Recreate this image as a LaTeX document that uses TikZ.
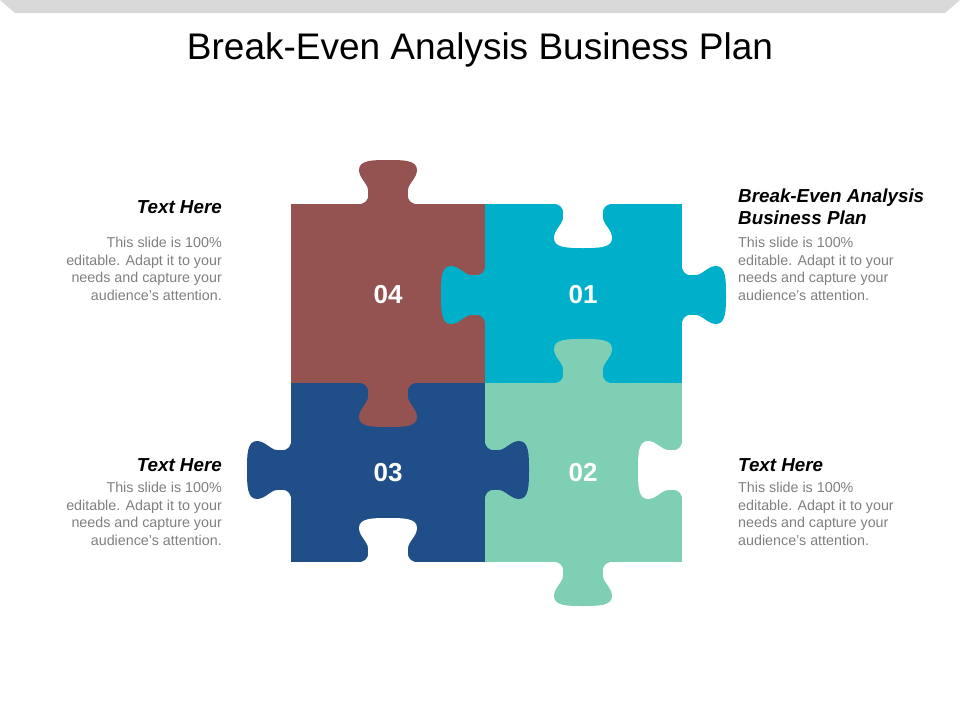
\documentclass[tikz,border=0pt]{standalone}
\usepackage{fontspec}
\setmainfont{Liberation Sans}
\definecolor{cbrown}{HTML}{945250}
\definecolor{ccyan}{HTML}{00B0CA}
\definecolor{cnavy}{HTML}{1F4E89}
\definecolor{cgreen}{HTML}{7FCFB5}
\definecolor{ctext}{HTML}{7F7F7F}
\definecolor{cbar}{HTML}{D9D9D9}
\tikzset{
  knob/.pic={\fill[pic actions] (-27,0) .. controls (-18,-3) and (-20,-8) .. (-20,-14) .. controls (-20,-20) and (-29,-26) .. (-29,-34) .. controls (-29,-44) and (-15,-44) .. (0,-44) .. controls (15,-44) and (29,-44) .. (29,-34) .. controls (29,-26) and (20,-20) .. (20,-14) .. controls (20,-8) and (18,-3) .. (27,0) -- cycle;},
  num/.style={text=white,font=\fontsize{26}{30}\selectfont\bfseries},
  head/.style={font=\fontsize{18.8}{22}\selectfont\bfseries\itshape,inner sep=0pt},
  body/.style={text=ctext,font=\fontsize{14.3}{17.5}\selectfont,inner sep=0pt}
}
\begin{document}
\begin{tikzpicture}[x=1pt,y=-1pt]
\useasboundingbox (0,0) rectangle (960,720);
\fill[cbar] (0,0) -- (960,0) -- (945,13) -- (15,13) -- cycle;
\node (title) at (480,50) {\fontsize{37}{40}\selectfont Break-Even Analysis Business Plan};
% pieces
\fill[cbrown] (291,204) rectangle (485,383);
\fill[ccyan] (485,204) rectangle (682,383);
\fill[cgreen] (485,383) rectangle (682,562);
\fill[cnavy] (291,383) rectangle (485,562);
% tabs
\pic[fill=cbrown] at (388,204) {knob};
\pic[fill=ccyan,rotate=90] at (485,295) {knob};
\pic[fill=cbrown,rotate=180] at (388,383) {knob};
\pic[fill=ccyan,rotate=-90] at (682,295) {knob};
\pic[fill=cgreen] at (583,383) {knob};
\pic[fill=cgreen,rotate=180] at (583,562) {knob};
\pic[fill=cnavy,rotate=90] at (291,470) {knob};
\pic[fill=cnavy,rotate=-90] at (485,470) {knob};
% blanks
\pic[fill=white,rotate=180] at (583,204) {knob};
\pic[fill=white,rotate=90] at (682,470) {knob};
\pic[fill=white] at (388,562) {knob};
% numbers
\node[num] (n04) at (388,295) {04};
\node[num] (n01) at (583,295) {01};
\node[num] (n03) at (388,473) {03};
\node[num] (n02) at (583,473) {02};
% texts
\node[head,anchor=south west,align=left] (h1) at (738,225) {Break-Even Analysis\\Business Plan};
\node[body,anchor=north west,align=left] (b1) at (738,237) {This slide is 100\%\\editable. Adapt it to your\\needs and capture your\\audience's attention.};
\node[head,anchor=south east] (h4) at (222,214) {Text Here};
\node[body,anchor=north east,align=right] (b4) at (222,237) {This slide is 100\%\\editable. Adapt it to your\\needs and capture your\\audience's attention.};
\node[head,anchor=south east] (h3) at (222,472) {Text Here};
\node[body,anchor=north east,align=right] (b3) at (222,482) {This slide is 100\%\\editable. Adapt it to your\\needs and capture your\\audience's attention.};
\node[head,anchor=south west] (h2) at (738,472) {Text Here};
\node[body,anchor=north west,align=left] (b2) at (738,482) {This slide is 100\%\\editable. Adapt it to your\\needs and capture your\\audience's attention.};
\end{tikzpicture}
\end{document}
